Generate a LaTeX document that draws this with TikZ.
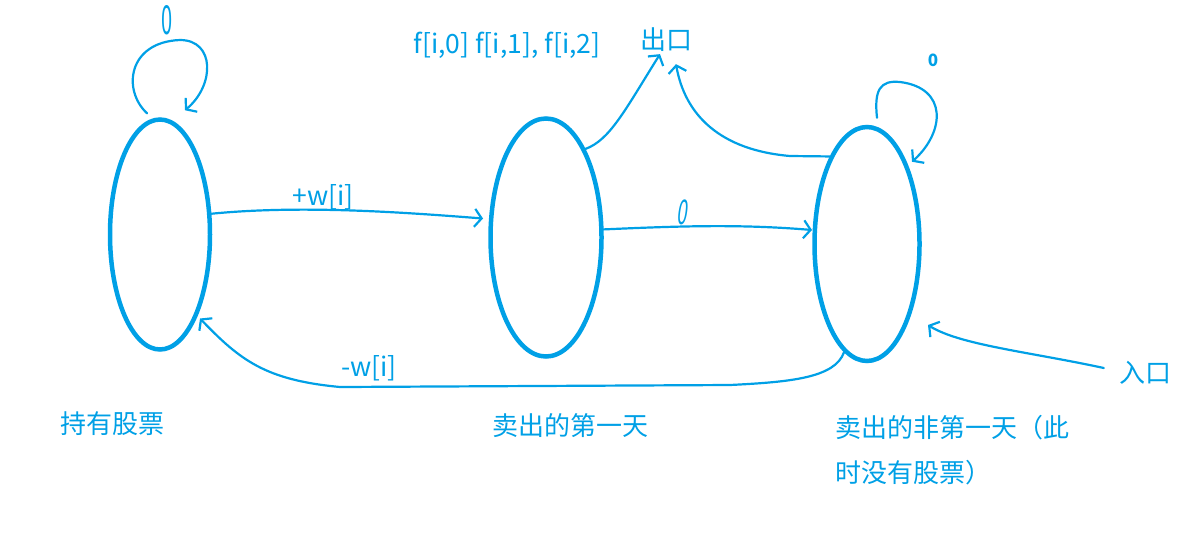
\documentclass[tikz,border=0pt]{standalone}
\usepackage{fontspec}
\setmainfont{Noto Sans CJK SC}
\usetikzlibrary{shapes.geometric,arrows.meta,calc}
\definecolor{sky}{RGB}{0,160,230}
\begin{document}
\begin{tikzpicture}[x=1pt,y=-1pt,
  state/.style={draw=sky,line width=4.5pt,ellipse,inner sep=0pt},
  conn/.style={draw=sky,line width=2.2pt,line cap=round,line join=round,
    -{Straight Barb[length=7pt,width=18pt]}},
  lbl/.style={text=sky,inner sep=0pt,font=\fontsize{26}{45}\selectfont},
  math/.style={text=sky,inner sep=0pt,font=\fontsize{26.5}{30}\selectfont},
  zero/.style={text=sky,inner sep=0pt,font=\fontsize{22}{24}\selectfont}]
\useasboundingbox (0,0) rectangle (1190,539);

% states
\node[state,minimum width=100pt,minimum height=230pt] (a) at (160,234.5) {};
\node[state,minimum width=111pt,minimum height=238pt] (b) at (546,237.5) {};
\node[state,minimum width=105pt,minimum height=234pt] (c) at (867,244) {};

% labels
\node[lbl] (la) at (112,424) {持有股票};
\node[lbl] (lb) at (570,426) {卖出的第一天};
\node[lbl,anchor=west,align=left] (lc) at (835,450) {卖出的非第一天（此\\时没有股票）};
\node[lbl] (exit) at (666,40) {出口};
\node[lbl] (entry) at (1145,373) {入口};
\node[math] (fs) at (507,45) {f[i,0] f[i,1], f[i,2]};
\node[math] (pw) at (323,197) {+w[i]};
\node[math] (mw) at (369,368) {-w[i]};
\node[zero,font=\fontsize{40}{40}\selectfont,xscale=0.5,transform shape] (z1) at (167,20) {0};
\node[zero,font=\fontsize{34}{34}\selectfont,xscale=0.55,xslant=0.25,transform shape] (z2) at (683,212) {0};
\node[zero,font=\fontsize{17}{18}\selectfont\bfseries] (z3) at (933,60) {0};

% self loop on a
\draw[conn] ($(a.north)+(-13,-4)$) .. controls (122,90) and (128,42) .. (180,40)
  .. controls (215,40) and (215,85) .. ($(a.north)+(25,-7)$);
% a -> b
\draw[conn] (a.22) .. controls (300,205) and (400,212) .. ($(b.center)+(-63,-19)$);
% b -> c
\draw[conn] (b.8) .. controls (680,226) and (740,224) .. ($(c.center)+(-55,-14)$);
% c -> a
\draw[conn] (c.258) .. controls (835,378) and (790,382) .. (730,385)
  -- (340,387) .. controls (265,380) and (240,360) .. ($(a.center)+(40,84)$);
% b -> exit
\draw[conn] (b.66) .. controls (610,140) and (625,110) .. ($(exit.south)+(-6,2)$);
% c -> exit
\draw[conn] (c.113) -- (790,156) .. controls (720,150) and (685,115) .. ($(exit.south)+(10,12)$);
% self loop on c
\draw[conn] ($(c.north)+(10,-7)$) .. controls (874,90) and (880,80) .. (900,82)
  .. controls (948,88) and (945,132) .. ($(c.north)+(45,37)$);
% entry -> c
\draw[conn] ($(entry.west)+(-15,-5)$) .. controls (1030,352) and (960,345) .. ($(c.center)+(61,81)$);
\end{tikzpicture}
\end{document}
